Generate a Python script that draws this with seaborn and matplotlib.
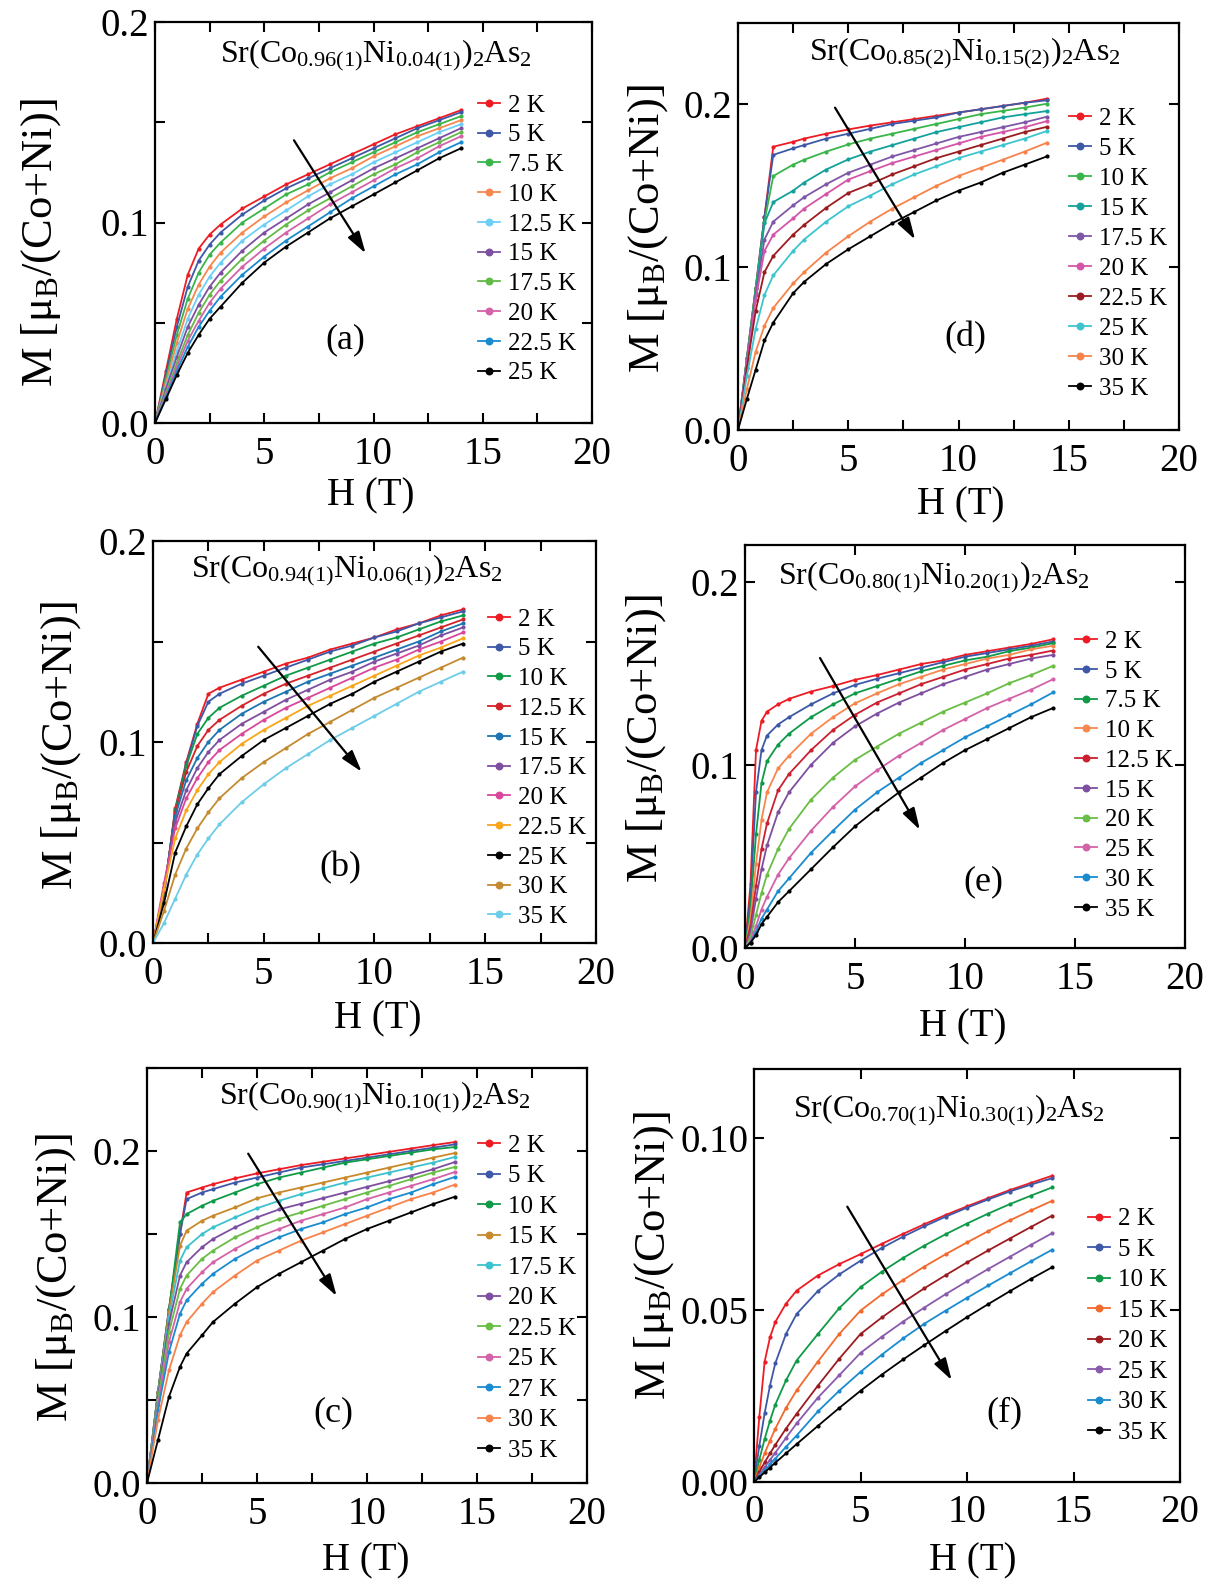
import numpy as np
import pandas as pd
import matplotlib
matplotlib.use("Agg")
import matplotlib.pyplot as plt
from matplotlib.ticker import MultipleLocator, FormatStrFormatter
import seaborn as sns

# ---------------- data ----------------
# (a) Sr(Co0.96Ni0.04)2As2
H_a = [0, 0.5, 1, 1.5, 2, 2.5, 3, 4, 5, 6, 7, 8, 9, 10, 11, 12, 13, 14]
T_a = ["2 K", "5 K", "7.5 K", "10 K", "12.5 K", "15 K", "17.5 K", "20 K", "22.5 K", "25 K"]
M_a = [
    [0, .026, .052, .074, .087, .094, .099, .107, .113, .119, .124, .129, .134, .139, .144, .148, .152, .156],
    [0, .024, .048, .068, .081, .089, .095, .104, .111, .117, .122, .127, .132, .137, .142, .147, .151, .155],
    [0, .022, .044, .062, .075, .084, .090, .100, .107, .114, .119, .125, .130, .135, .140, .145, .149, .153],
    [0, .020, .040, .057, .069, .078, .085, .095, .103, .110, .116, .122, .127, .133, .138, .143, .147, .151],
    [0, .018, .036, .052, .064, .073, .080, .091, .099, .106, .113, .119, .124, .130, .135, .140, .145, .149],
    [0, .017, .033, .048, .059, .068, .075, .086, .095, .102, .109, .115, .121, .127, .132, .137, .142, .147],
    [0, .015, .030, .044, .055, .064, .071, .082, .091, .099, .106, .112, .118, .124, .129, .135, .140, .145],
    [0, .014, .028, .041, .051, .060, .067, .078, .087, .095, .102, .109, .115, .121, .127, .132, .138, .143],
    [0, .013, .026, .038, .048, .056, .063, .074, .083, .091, .098, .105, .112, .118, .124, .129, .135, .140],
    [0, .012, .024, .035, .044, .052, .058, .070, .080, .088, .095, .102, .108, .114, .120, .126, .132, .137],
]
C_a = ["#ed1c24", "#3e58a8", "#3ab54a", "#f7874f", "#6dcff6", "#7e4fa0", "#62bb46", "#d462a8", "#1b8bd0", "#000000"]

# (b) Sr(Co0.94Ni0.06)2As2
H_b = [0, 0.5, 1, 1.5, 2, 2.5, 3, 4, 5, 6, 7, 8, 9, 10, 11, 12, 13, 14]
T_b = ["2 K", "5 K", "10 K", "12.5 K", "15 K", "17.5 K", "20 K", "22.5 K", "25 K", "30 K", "35 K"]
M_b = [
    [0, .024, .067, .090, .109, .124, .127, .131, .135, .139, .142, .146, .149, .152, .156, .159, .163, .166],
    [0, .024, .066, .089, .108, .120, .124, .129, .133, .137, .141, .145, .148, .152, .155, .159, .162, .165],
    [0, .025, .066, .088, .104, .112, .117, .123, .128, .133, .137, .141, .145, .149, .152, .156, .160, .163],
    [0, .026, .065, .085, .098, .106, .111, .118, .124, .129, .133, .137, .141, .145, .149, .153, .157, .161],
    [0, .027, .063, .081, .092, .100, .106, .114, .120, .125, .130, .134, .138, .142, .146, .150, .155, .159],
    [0, .028, .060, .076, .087, .095, .101, .109, .115, .121, .126, .131, .135, .140, .144, .148, .153, .157],
    [0, .030, .057, .072, .082, .090, .096, .104, .111, .117, .122, .127, .132, .137, .141, .146, .150, .1545],
    [0, .027, .052, .066, .076, .084, .090, .099, .106, .112, .118, .123, .128, .133, .138, .143, .147, .1516],
    [0, .020, .045, .058, .069, .077, .084, .093, .101, .107, .113, .119, .124, .130, .135, .140, .145, .149],
    [0, .016, .034, .047, .057, .065, .072, .082, .090, .097, .104, .110, .116, .122, .127, .132, .137, .142],
    [0, .010, .022, .034, .044, .052, .059, .070, .079, .087, .094, .101, .107, .113, .119, .125, .130, .135],
]
C_b = ["#ed1c24", "#3e58a8", "#0f9a48", "#d2232a", "#1c75b0", "#7e4fa0", "#d9479b", "#f9a51a", "#000000", "#c48a2f", "#6dcde8"]

# (c) Sr(Co0.90Ni0.10)2As2
H_c = [0, 0.5, 1, 1.5, 1.8, 2.5, 3, 4, 5, 6, 7, 8, 9, 10, 11, 12, 13, 14]
T_c = ["2 K", "5 K", "10 K", "15 K", "17.5 K", "20 K", "22.5 K", "25 K", "27 K", "30 K", "35 K"]
M_c = [
    [0, .055, .105, .150, .175, .178, .180, .1835, .1865, .189, .1915, .1935, .1955, .1975, .1995, .2015, .2035, .2054],
    [0, .055, .105, .150, .171, .175, .177, .181, .184, .187, .190, .192, .194, .196, .198, .200, .202, .204],
    [0, .055, .104, .157, .162, .167, .170, .175, .180, .184, .187, .190, .193, .195, .197, .199, .201, .2024],
    [0, .054, .103, .143, .152, .158, .161, .166, .1715, .175, .178, .181, .184, .187, .190, .193, .196, .1988],
    [0, .053, .100, .134, .142, .150, .154, .160, .1655, .170, .174, .1775, .181, .184, .187, .190, .193, .1964],
    [0, .052, .096, .125, .133, .142, .147, .154, .160, .1648, .1682, .1716, .175, .1784, .1818, .1852, .189, .1934],
    [0, .050, .091, .117, .125, .135, .140, .148, .154, .159, .163, .167, .171, .175, .179, .183, .187, .1904],
    [0, .047, .085, .109, .117, .127, .133, .141, .148, .153, .158, .162, .166, .171, .175, .179, .183, .1874],
    [0, .044, .079, .102, .110, .120, .126, .135, .142, .148, .153, .157, .162, .166, .171, .175, .180, .1844],
    [0, .038, .068, .089, .097, .108, .115, .125, .134, .140, .146, .151, .156, .161, .166, .171, .175, .1798],
    [0, .026, .052, .070, .078, .089, .097, .108, .118, .126, .133, .140, .147, .153, .158, .163, .168, .1725],
]
C_c = ["#ed1c24", "#3e58a8", "#0f9a48", "#c8892a", "#3cc2cc", "#7e4fa0", "#6abd45", "#d462a8", "#1b8bd0", "#f7834a", "#000000"]

# (d) Sr(Co0.85Ni0.15)2As2
H_d = [0, 0.4, 0.8, 1.2, 1.6, 2.5, 3, 4, 5, 6, 7, 8, 9, 10, 11, 12, 13, 14]
T_d = ["2 K", "5 K", "10 K", "15 K", "17.5 K", "20 K", "22.5 K", "25 K", "30 K", "35 K"]
M_d = [
    [0, .044, .087, .131, .174, .177, .179, .182, .1846, .187, .189, .191, .193, .195, .197, .199, .201, .2035],
    [0, .044, .087, .131, .169, .173, .175, .179, .182, .185, .188, .190, .192, .195, .197, .199, .201, .2025],
    [0, .044, .087, .128, .156, .163, .166, .171, .1754, .179, .182, .185, .188, .191, .194, .196, .198, .2004],
    [0, .042, .084, .127, .140, .147, .152, .160, .1662, .171, .175, .179, .183, .186, .189, .192, .194, .1959],
    [0, .042, .083, .117, .128, .138, .143, .151, .158, .163, .168, .172, .176, .180, .183, .186, .189, .1924],
    [0, .041, .080, .110, .120, .130, .136, .145, .1538, .159, .164, .168, .172, .176, .180, .183, .186, .1897],
    [0, .038, .073, .097, .107, .120, .126, .1365, .1456, .151, .157, .162, .167, .171, .175, .179, .183, .1862],
    [0, .033, .062, .083, .095, .110, .117, .128, .1374, .144, .151, .157, .162, .167, .171, .175, .179, .1836],
    [0, .025, .048, .064, .075, .090, .097, .109, .119, .128, .136, .143, .150, .156, .161, .166, .171, .1764],
    [0, .019, .037, .055, .066, .084, .091, .102, .111, .119, .127, .134, .141, .147, .152, .158, .163, .168],
]
C_d = ["#ed1c24", "#3e58a8", "#3ab54a", "#13a19c", "#7e57a8", "#d455a8", "#9b1c20", "#3cc5cf", "#f7834a", "#000000"]

# (e) Sr(Co0.80Ni0.20)2As2
H_e = [0, 0.25, 0.5, 0.75, 1, 1.5, 2, 3, 4, 5, 6, 7, 8, 9, 10, 11, 12, 13, 14]
T_e = ["2 K", "5 K", "7.5 K", "10 K", "12.5 K", "15 K", "20 K", "25 K", "30 K", "35 K"]
M_e = [
    [0, .035, .108, .124, .129, .133, .136, .140, .143, .1464, .149, .152, .155, .157, .160, .162, .164, .166, .1685],
    [0, .028, .085, .108, .116, .122, .126, .133, .139, .1436, .147, .150, .153, .156, .159, .161, .163, .165, .1673],
    [0, .022, .062, .090, .102, .111, .117, .126, .133, .139, .143, .147, .151, .154, .157, .159, .162, .164, .1664],
    [0, .016, .046, .070, .085, .098, .105, .117, .126, .1336, .139, .144, .148, .152, .155, .158, .160, .163, .165],
    [0, .012, .034, .054, .068, .086, .095, .108, .119, .1273, .134, .139, .144, .148, .152, .155, .158, .160, .1624],
    [0, .009, .027, .043, .056, .074, .085, .100, .112, .121, .128, .134, .139, .144, .148, .152, .155, .158, .160],
    [0, .006, .018, .030, .040, .054, .065, .081, .093, .1027, .110, .117, .123, .129, .134, .139, .1445, .149, .154],
    [0, .004, .012, .021, .028, .040, .049, .064, .077, .0882, .097, .105, .112, .119, .125, .131, .136, .141, .1467],
    [0, .003, .009, .016, .021, .031, .038, .052, .064, .0755, .085, .093, .101, .108, .115, .121, .127, .133, .1395],
    [0, .003, .007, .013, .017, .025, .031, .043, .055, .0664, .076, .085, .093, .101, .108, .114, .120, .126, .131],
]
C_e = ["#ed1c24", "#3e58a8", "#0f9a48", "#f7874f", "#cc1f2f", "#7e4fa0", "#6abd45", "#d462a8", "#1b8bd0", "#000000"]

# (f) Sr(Co0.70Ni0.30)2As2
H_f = [0, 0.25, 0.5, 0.75, 1, 1.5, 2, 3, 4, 5, 6, 7, 8, 9, 10, 11, 12, 13, 14]
T_f = ["2 K", "5 K", "10 K", "15 K", "20 K", "25 K", "30 K", "35 K"]
M_f = [
    [0, .019, .035, .042, .0465, .0518, .0556, .060, .0633, .0662, .0692, .0721, .0749, .0776, .0801, .0825, .0848, .0869, .089],
    [0, .0105, .020, .028, .0345, .043, .0488, .0555, .0603, .0643, .068, .0713, .0743, .0771, .0797, .0821, .0844, .0864, .0883],
    [0, .0065, .0125, .0178, .0225, .0295, .0353, .043, .0505, .0566, .0611, .0651, .0687, .072, .0751, .078, .0807, .0832, .0856],
    [0, .0043, .0083, .012, .0155, .0215, .0266, .035, .043, .0498, .0545, .0587, .0626, .0662, .0696, .0729, .076, .0789, .0817],
    [0, .0029, .0057, .0083, .0108, .0155, .0198, .028, .0358, .043, .0478, .0522, .0563, .0601, .0638, .0673, .0707, .0741, .0774],
    [0, .0021, .0043, .0064, .0085, .0128, .017, .0245, .031, .0375, .0422, .0466, .0507, .0546, .0583, .0619, .0654, .0689, .0723],
    [0, .0017, .0034, .0051, .0068, .0102, .0135, .0205, .0265, .032, .037, .0417, .046, .0498, .0535, .0571, .0606, .0641, .0675],
    [0, .0014, .0028, .0042, .0056, .0083, .011, .0163, .0215, .0265, .0312, .0356, .0398, .0439, .0479, .0517, .0554, .059, .0624],
]
C_f = ["#ed1c24", "#3e58a8", "#0f9a48", "#f26a2d", "#9b1c20", "#8a5aac", "#1b8bd0", "#000000"]

FORMULA = {
    "a": r"$\mathrm{Sr(Co_{0.96(1)}Ni_{0.04(1)})_2As_2}$",
    "b": r"$\mathrm{Sr(Co_{0.94(1)}Ni_{0.06(1)})_2As_2}$",
    "c": r"$\mathrm{Sr(Co_{0.90(1)}Ni_{0.10(1)})_2As_2}$",
    "d": r"$\mathrm{Sr(Co_{0.85(2)}Ni_{0.15(2)})_2As_2}$",
    "e": r"$\mathrm{Sr(Co_{0.80(1)}Ni_{0.20(1)})_2As_2}$",
    "f": r"$\mathrm{Sr(Co_{0.70(1)}Ni_{0.30(1)})_2As_2}$",
}

# ---------------- layout (pixel boxes in the 1211x1595 figure) ----------------
W, Hpx = 1211, 1595
LAYOUT = {
    # box: left, top, right, bottom
    "a": dict(data=(H_a, T_a, M_a, C_a), box=(155, 22, 592, 423), ylim=0.2, ymaj=0.1, ymin=0.05, xmin=2.5, yfmt="%.1f",
              formula=(0.506, 0.918), letter=(0.436, 0.207), leg=(0.739, 0.820), lsp=0.29,
              arrow=((6.36, 0.141), (9.64, 0.0846)), ylab=(-0.261, 0.45), xlab=(0.494, -0.182)),
    "b": dict(data=(H_b, T_b, M_b, C_b), box=(153, 541, 596, 943), ylim=0.2, ymaj=0.1, ymin=0.05, xmin=2.5, yfmt="%.1f",
              formula=(0.438, 0.928), letter=(0.422, 0.186), leg=(0.756, 0.833), lsp=0.29,
              arrow=((4.75, 0.1474), (9.42, 0.0852)), ylab=(-0.208, 0.49), xlab=(0.508, -0.189)),
    "c": dict(data=(H_c, T_c, M_c, C_c), box=(147, 1068, 587, 1483), ylim=0.25, ymaj=0.1, ymin=0.05, xmin=2.5, yfmt="%.1f",
              formula=(0.518, 0.93), letter=(0.423, 0.168), leg=(0.752, 0.840), lsp=0.32,
              arrow=((4.6, 0.1984), (8.62, 0.1126)), ylab=(-0.207, 0.494), xlab=(0.498, -0.188)),
    "d": dict(data=(H_d, T_d, M_d, C_d), box=(738, 23, 1179, 430), ylim=0.25, ymaj=0.1, ymin=None, xmin=2.5, yfmt="%.1f",
              formula=(0.515, 0.926), letter=(0.516, 0.226), leg=(0.75, 0.792), lsp=0.30,
              arrow=((4.40, 0.198), (8.03, 0.117)), ylab=(-0.204, 0.494), xlab=(0.506, -0.184)),
    "e": dict(data=(H_e, T_e, M_e, C_e), box=(745, 545, 1185, 948), ylim=0.22, ymaj=0.1, ymin=None, xmin=None, yfmt="%.1f",
              formula=(0.43, 0.92), letter=(0.541, 0.165), leg=(0.75, 0.788), lsp=0.29,
              arrow=((3.41, 0.1583), (7.95, 0.0645)), ylab=(-0.225, 0.52), xlab=(0.495, -0.196)),
    "f": dict(data=(H_f, T_f, M_f, C_f), box=(754, 1069, 1180, 1482), ylim=0.12, ymaj=0.05, ymin=None, xmin=None, yfmt="%.2f",
              formula=(0.458, 0.90), letter=(0.587, 0.167), leg=(0.784, 0.664), lsp=0.32,
              arrow=((4.38, 0.080), (9.28, 0.0296)), ylab=(-0.235, 0.547), xlab=(0.514, -0.191)),
}

plt.rcParams["font.family"] = ["Liberation Serif", "DejaVu Serif"]
plt.rcParams["mathtext.fontset"] = "custom"
plt.rcParams["mathtext.rm"] = "Liberation Serif"
plt.rcParams["mathtext.it"] = "Liberation Serif:italic"
plt.rcParams["mathtext.bf"] = "Liberation Serif:bold"

fig = plt.figure(figsize=(W / 100, Hpx / 100), dpi=100)

for key, lay in LAYOUT.items():
    H, T, M, C = lay["data"]
    l, t, r, b = lay["box"]
    ax = fig.add_axes([l / W, 1 - b / Hpx, (r - l) / W, (b - t) / Hpx])

    df = pd.DataFrame([(h, m, lab) for lab, row in zip(T, M) for h, m in zip(H, row)],
                      columns=["H", "M", "T"])
    sns.lineplot(data=df, x="H", y="M", hue="T", hue_order=T, palette=C,
                 marker="o", markersize=3.0, markeredgewidth=0, linewidth=1.3,
                 estimator=None, sort=False, legend=False, ax=ax)

    ax.set_xlim(0, 20)
    ax.set_ylim(0, lay["ylim"])
    ax.xaxis.set_major_locator(MultipleLocator(5))
    ax.yaxis.set_major_locator(MultipleLocator(lay["ymaj"]))
    ax.yaxis.set_major_formatter(FormatStrFormatter(lay["yfmt"]))
    if lay["xmin"]:
        ax.xaxis.set_minor_locator(MultipleLocator(lay["xmin"]))
    if lay["ymin"]:
        ax.yaxis.set_minor_locator(MultipleLocator(lay["ymin"]))
    ax.tick_params(which="both", direction="in", top=True, right=True, length=7, width=1.5)
    ax.tick_params(axis="both", labelsize=28)
    ax.tick_params(axis="x", pad=9)
    ax.tick_params(axis="y", pad=4)
    for s in ax.spines.values():
        s.set_linewidth(1.6)

    ax.set_xlabel("H (T)", fontsize=28, va="center")
    ax.xaxis.set_label_coords(*lay["xlab"])
    ax.set_ylabel("M [μ$_{\\mathrm{B}}$/(Co+Ni)]", fontsize=32, va="center")
    ax.yaxis.set_label_coords(*lay["ylab"])

    ax.text(*lay["formula"], FORMULA[key], transform=ax.transAxes, ha="center", va="center", fontsize=23)
    ax.text(*lay["letter"], "(%s)" % key, transform=ax.transAxes, ha="center", va="center", fontsize=26)

    (x0, y0), (x1, y1) = lay["arrow"]
    ax.annotate("", xy=(x1, y1), xytext=(x0, y0),
                arrowprops=dict(arrowstyle="-|>,head_length=0.6,head_width=0.18", color="k",
                                lw=1.6, shrinkA=0, shrinkB=0, mutation_scale=22))

    handles = ax.get_lines()[:len(T)]
    ax.legend(handles, T, loc="upper left", bbox_to_anchor=lay["leg"], frameon=False,
              fontsize=18, borderpad=0, borderaxespad=0, handlelength=0.88, handletextpad=0.32,
              labelspacing=lay["lsp"], markerscale=1.9)

fig.savefig("out.png", dpi=100)
